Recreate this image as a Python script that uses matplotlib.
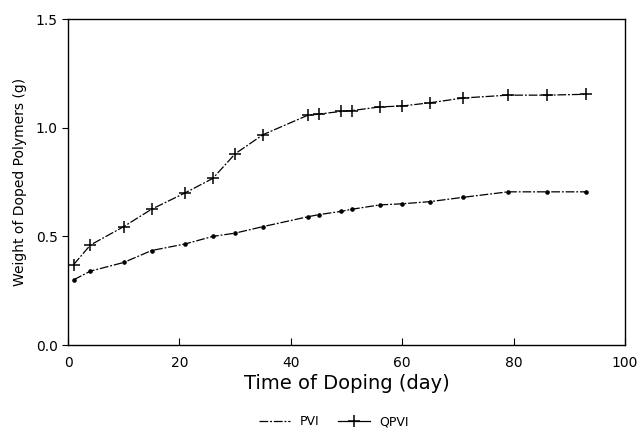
import matplotlib
matplotlib.use("Agg")
import matplotlib.pyplot as plt
from matplotlib.lines import Line2D

days = [1, 4, 10, 15, 21, 26, 30, 35, 43, 45, 49, 51, 56, 60, 65, 71, 79, 86, 93]
pvi = [0.30, 0.34, 0.38, 0.435, 0.465, 0.50, 0.515, 0.545, 0.59, 0.60, 0.615,
       0.625, 0.645, 0.65, 0.66, 0.68, 0.705, 0.705, 0.705]
qpvi = [0.37, 0.46, 0.545, 0.625, 0.70, 0.767, 0.88, 0.968, 1.057, 1.063, 1.075,
        1.079, 1.096, 1.10, 1.115, 1.137, 1.15, 1.15, 1.154]
xticks = [0, 20, 40, 60, 80, 100]
yticks = [0.0, 0.5, 1.0, 1.5]

plt.rcParams['font.family'] = ['DejaVu Sans']
fig = plt.figure(figsize=(6.42, 4.34), dpi=100)
ax = fig.add_axes([0.106, 0.205, 0.8675, 0.751])

ls = (0, (7, 1.5, 1.5, 1.5))
ax.plot(days, pvi, color='black', lw=0.9, linestyle=ls, marker='o', ms=2.3)
ax.plot(days, qpvi, color='black', lw=0.9, linestyle=ls, marker='+', ms=8, mew=1.1)

ax.set_xlim(0, 100)
ax.set_ylim(0, 1.5)
ax.set_xticks(xticks)
ax.set_yticks(yticks)
ax.set_xticklabels([str(v) for v in xticks])
ax.set_yticklabels([f"{v:.1f}" for v in yticks])
ax.tick_params(axis='x', direction='in', length=5, labelsize=10, pad=8)
ax.tick_params(axis='y', direction='out', length=4, labelsize=10)
for s in ax.spines.values():
    s.set_linewidth(1.0)

ax.set_xlabel("Time of Doping (day)", fontsize=14, labelpad=3)
ax.set_ylabel("Weight of Doped Polymers (g)", fontsize=10, labelpad=6)

handles = [Line2D([], [], color='black', lw=0.9, linestyle=ls),
           Line2D([], [], color='black', lw=0.9, marker='+', ms=8, mew=1.1)]
fig.legend(handles, ["PVI", "QPVI"], loc='center', bbox_to_anchor=(0.52, 0.028),
           ncol=2, frameon=False, fontsize=9, handlelength=2.5, columnspacing=1.5)

fig.savefig("out.png", dpi=100)
